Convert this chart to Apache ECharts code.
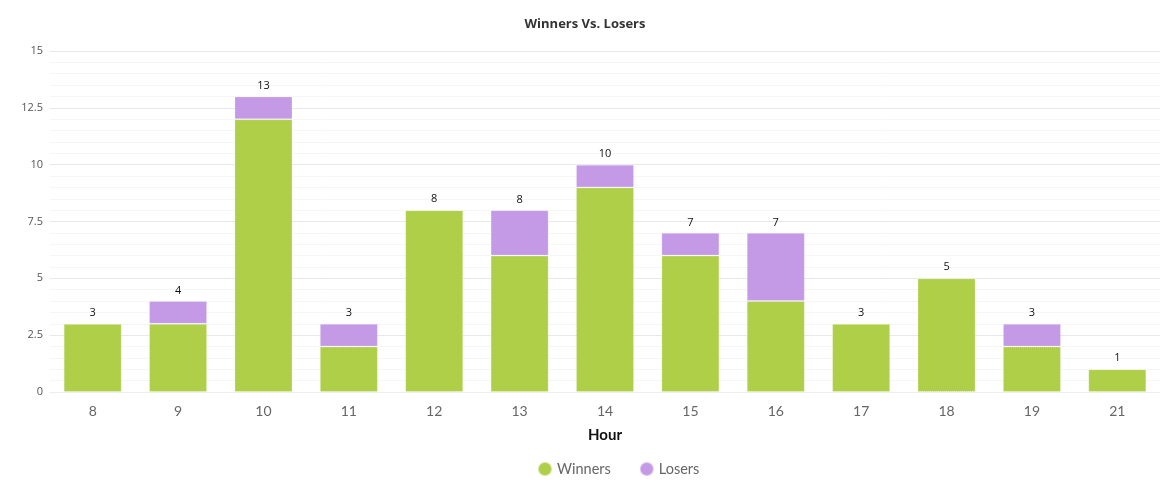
<!DOCTYPE html>
<html><head><meta charset="utf-8">
<script src="https://cdn.jsdelivr.net/npm/echarts@6/dist/echarts.min.js"></script>
<style>html,body{margin:0;padding:0;background:#fff}#c{width:1170px;height:501px}</style>
</head><body><div id="c"></div>
<script>
const hours = ['8','9','10','11','12','13','14','15','16','17','18','19','21'];
const winners = [3,3,12,2,8,6,9,6,4,3,5,2,1];
const losers  = [0,1,1,1,0,2,1,1,3,0,0,1,0];
const yTicks = [0,2.5,5,7.5,10,12.5,15];

const chart = echarts.init(document.getElementById('c'));
chart.setOption({
  animation:false,
  textStyle:{fontFamily:'"Open Sans", "DejaVu Sans", sans-serif'},
  title:{text:'Winners Vs. Losers',left:'center',top:13,
    textStyle:{fontSize:13,fontWeight:'bold',color:'#333',fontFamily:'"Open Sans", sans-serif'}},
  grid:{left:50,right:10,top:51,bottom:109,containLabel:false},
  legend:{top:456,left:532,icon:'circle',itemWidth:14,itemHeight:14,itemGap:28,
    textStyle:{fontSize:14.5,color:'#666',fontFamily:'Lato, "Open Sans", sans-serif'},data:['Winners','Losers']},
  xAxis:{type:'category',data:hours,name:'Hour',nameLocation:'middle',nameGap:36,
    nameTextStyle:{fontSize:15,fontWeight:'bold',color:'#111',fontFamily:'Lato, "Open Sans", sans-serif'},
    axisLine:{show:true,lineStyle:{color:'#eeeeee'}},axisTick:{show:false},
    axisLabel:{fontSize:14,color:'#666',margin:12,fontFamily:'Lato, "Open Sans", sans-serif'}},
  yAxis:{type:'value',min:yTicks[0],max:yTicks[yTicks.length-1],interval:2.5,
    axisLine:{show:false},axisTick:{show:false},
    axisLabel:{fontSize:11,color:'#555',margin:7,padding:[4,0,0,0]},
    splitLine:{lineStyle:{color:'#e8e8e8'}},
    minorTick:{show:false,splitNumber:5},
    minorSplitLine:{show:true,lineStyle:{color:'#f6f6f6'}}},
  series:[
    {name:'Winners',type:'bar',stack:'t',data:winners,barWidth:'68%',
      itemStyle:{color:'#afcf48',borderColor:'rgba(255,255,255,0.45)',borderWidth:1,borderType:'dotted'}},
    {name:'Losers',type:'bar',stack:'t',data:losers,barWidth:'68%',
      itemStyle:{color:'#c49ae6',borderColor:'rgba(255,255,255,0.45)',borderWidth:1,borderType:'dotted'},
      label:{show:true,position:'top',distance:5,fontSize:11,color:'#111',
        formatter:p=>String(winners[p.dataIndex]+losers[p.dataIndex])}}
  ]
});
</script></body></html>
